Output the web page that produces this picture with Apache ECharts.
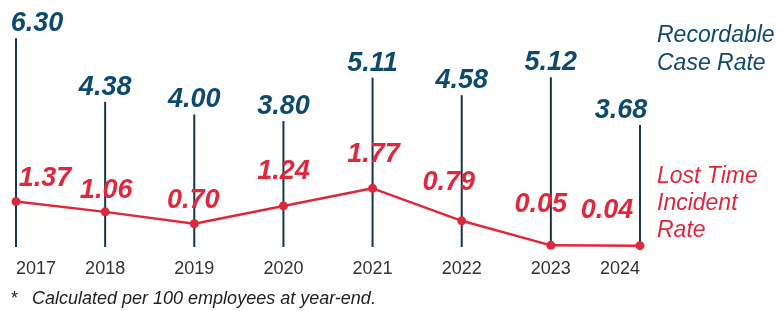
<!DOCTYPE html>
<html>
<head>
<meta charset="utf-8">
<script src="https://cdn.jsdelivr.net/npm/echarts@6/dist/echarts.min.js"></script>
<style>
	html, body { margin: 0; padding: 0; background: #fff; }
	#chart { width: 783px; height: 311px; }
</style>
</head>
<body>
<div id="chart"></div>
<script>
// 年份
var years = ['2017', '2018', '2019', '2020', '2021', '2022', '2023', '2024'];
// Recordable Case Rate
var recordableRate = [6.30, 4.38, 4.00, 3.80, 5.11, 4.58, 5.12, 3.68];
// Lost Time Incident Rate
var lostTimeRate = [1.37, 1.06, 0.70, 1.24, 1.77, 0.79, 0.05, 0.04];

// label nudges (px), so labels sit where the original puts them
var blueNudge = [[21, 0], [0, 0], [0, 0], [0, 0], [0, 0], [0, 0], [0, 0], [-19, 0]];
var redNudge = [[29, 0], [1, 2], [-1, 0], [0, -11], [1, -11], [-13, -15], [-10, -18], [-33, -12]];

var BLUE = '#0e4a6e';
var STEM = '#17354d';
var RED = '#e0283c';
var FONT = '"Liberation Sans", Arial, sans-serif';

var chart = echarts.init(document.getElementById('chart'));

var stemData = recordableRate.map(function(v, i) {
	return { value: v, label: { offset: blueNudge[i] } };
});
var lineData = lostTimeRate.map(function(v, i) {
	return { value: v, label: { offset: redNudge[i] } };
});

var option = {
	animation: false,
	grid: { left: 16, right: 143, top: 15, bottom: 64 },
	xAxis: {
		type: 'category',
		data: years,
		boundaryGap: false,
		axisLine: { show: false },
		axisTick: { show: false },
		axisLabel: {
			margin: 13,
			fontSize: 18,
			color: '#333',
			fontFamily: FONT,
			alignMinLabel: 'left',
			alignMaxLabel: 'right'
		}
	},
	yAxis: {
		type: 'value',
		min: 0,
		max: 7,
		show: false
	},
	series: [{
		name: 'Recordable Case Rate',
		type: 'bar',
		barWidth: 2,
		itemStyle: { color: STEM },
		label: {
			show: true,
			position: 'top',
			distance: 1,
			formatter: function(p) { return p.value.toFixed(2); },
			fontSize: 27,
			fontWeight: 'bold',
			fontStyle: 'italic',
			fontFamily: FONT,
			color: BLUE
		},
		data: stemData
	}, {
		name: 'Lost Time Incident Rate',
		type: 'line',
		symbol: 'circle',
		symbolSize: 9,
		itemStyle: { color: RED },
		lineStyle: { color: RED, width: 2.5 },
		label: {
			show: true,
			position: 'top',
			formatter: function(p) { return p.value.toFixed(2); },
			fontSize: 27,
			fontWeight: 'bold',
			fontStyle: 'italic',
			fontFamily: FONT,
			color: RED
		},
		data: lineData
	}],
	graphic: [
		{ type: 'text', left: 657, top: 22, style: { text: 'Recordable\nCase Rate', font: 'italic 23px ' + FONT, fill: BLUE, lineHeight: 28 } },
		{ type: 'text', left: 657, top: 163, style: { text: 'Lost Time\nIncident\nRate', font: 'italic 23px ' + FONT, fill: RED, lineHeight: 27 } },
		{ type: 'text', left: 11, top: 290, style: { text: '*', font: '18px ' + FONT, fill: '#222' } },
		{ type: 'text', left: 32, top: 290, style: { text: 'Calculated per 100 employees at year-end.', font: 'italic 18px ' + FONT, fill: '#222' } }
	]
};

chart.setOption(option);
</script>
</body>
</html>
